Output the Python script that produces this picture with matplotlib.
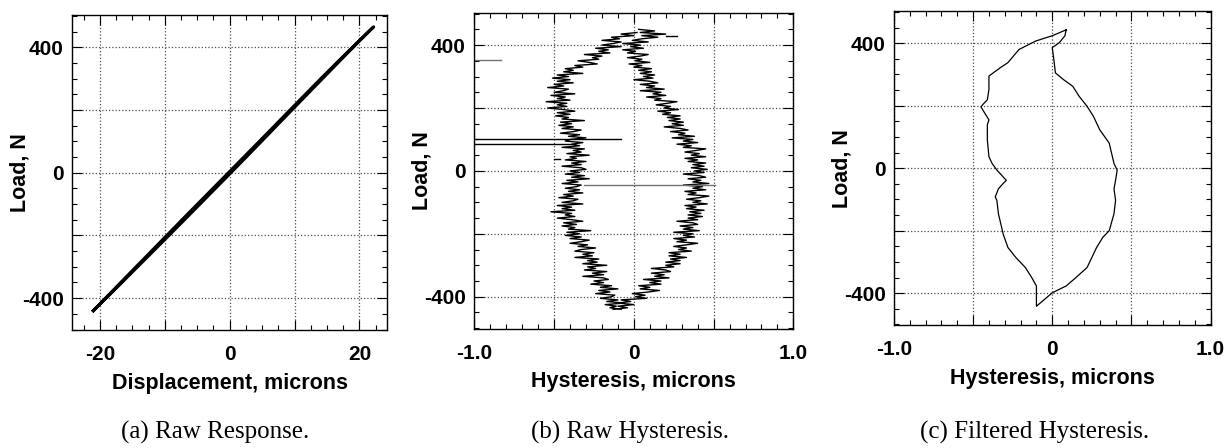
import numpy as np
import matplotlib.pyplot as plt
from matplotlib.ticker import MultipleLocator, FuncFormatter

plt.rcParams['axes.unicode_minus'] = False
plt.rcParams['font.family'] = ['Liberation Sans', 'DejaVu Sans']

# ----------------------------
# (a) raw response: load vs displacement
# ----------------------------
load_a = [-440, -400, -350, -300, -250, -200, -150, -100, -50, 0, 50, 100, 150, 200,
          250, 300, 350, 400, 450, 465,
          450, 400, 350, 300, 250, 200, 150, 100, 50, 0, -50, -100, -150, -200,
          -250, -300, -350, -400, -440]
disp_a = [-21.00, -19.05, -16.61, -14.19, -11.77, -9.36, -6.96, -4.57, -2.19, 0.19,
          2.56, 4.91, 7.25, 9.60, 11.95, 14.31, 16.67, 19.04, 21.45, 22.19,
          21.43, 18.95, 16.49, 14.06, 11.68, 9.31, 6.95, 4.58, 2.20, -0.18, -2.56,
          -4.95, -7.33, -9.69, -12.05, -14.42, -16.78, -19.13, -21.01]

# ----------------------------
# (b) raw hysteresis (two noisy branches + glitches)
# ----------------------------
load_b_left = [440, 435, 430, 425, 420, 415, 410, 405, 400, 395,
               390, 385, 380, 375, 370, 365, 360, 355, 350, 345,
               340, 335, 330, 325, 320, 315, 310, 305, 300, 295,
               290, 285, 280, 275, 270, 265, 260, 255, 250, 245,
               240, 235, 230, 225, 220, 215, 210, 205, 200, 195,
               190, 185, 180, 175, 170, 165, 160, 155, 150, 145,
               140, 135, 130, 125, 120, 115, 110, 105, 100, 95,
               90, 85, 80, 75, 70, 65, 60, 55, 50, 45,
               40, 35, 30, 25, 20, 15, 10, 5, 0, -5,
               -10, -15, -20, -25, -30, -35, -40, -45, -50, -55,
               -60, -65, -70, -75, -80, -85, -90, -95, -100, -105,
               -110, -115, -120, -125, -130, -135, -140, -145, -150, -155,
               -160, -165, -170, -175, -180, -185, -190, -195, -200, -205,
               -210, -215, -220, -225, -230, -235, -240, -245, -250, -255,
               -260, -265, -270, -275, -280, -285, -290, -295, -300, -305,
               -310, -315, -320, -325, -330, -335, -340, -345, -350, -355,
               -360, -365, -370, -375, -380, -385, -390, -395, -400, -405,
               -410, -415, -420, -425, -430, -435, -440]
hyst_b_left = [0.02, -0.08, 0.00, -0.14, -0.09, -0.20, -0.08, -0.13, -0.20, -0.08,
               -0.24, -0.16, -0.22, -0.15, -0.31, -0.20, -0.26, -0.22, -0.35, -0.28,
               -0.23, -0.37, -0.32, -0.43, -0.38, -0.44, -0.32, -0.48, -0.41, -0.51,
               -0.40, -0.48, -0.38, -0.50, -0.44, -0.54, -0.41, -0.44, -0.50, -0.37,
               -0.52, -0.43, -0.48, -0.40, -0.55, -0.42, -0.48, -0.42, -0.54, -0.44,
               -0.37, -0.48, -0.40, -0.49, -0.41, -0.45, -0.31, -0.46, -0.39, -0.47,
               -0.38, -0.45, -0.33, -0.38, -0.46, -0.34, -0.41, -0.30, -0.40, -0.43,
               -0.32, -0.39, -0.34, -0.45, -0.31, -0.38, -0.33, -0.42, -0.28, -0.40,
               -0.36, -0.43, -0.30, -0.39, -0.33, -0.45, -0.33, -0.30, -0.40, -0.34,
               -0.43, -0.31, -0.39, -0.28, -0.42, -0.35, -0.45, -0.33, -0.36, -0.43,
               -0.34, -0.41, -0.32, -0.44, -0.38, -0.47, -0.35, -0.38, -0.45, -0.32,
               -0.48, -0.39, -0.45, -0.37, -0.52, -0.39, -0.43, -0.37, -0.48, -0.39,
               -0.32, -0.44, -0.36, -0.45, -0.37, -0.41, -0.27, -0.42, -0.34, -0.43,
               -0.33, -0.40, -0.28, -0.33, -0.40, -0.29, -0.35, -0.24, -0.33, -0.37,
               -0.25, -0.32, -0.26, -0.37, -0.22, -0.29, -0.23, -0.32, -0.17, -0.29,
               -0.24, -0.31, -0.17, -0.26, -0.19, -0.32, -0.19, -0.16, -0.25, -0.19,
               -0.27, -0.14, -0.21, -0.10, -0.22, -0.15, -0.24, -0.12, -0.14, -0.21,
               -0.10, -0.17, -0.06, -0.18, -0.11, -0.15, -0.08]
load_b_right = [-440, -435, -430, -425, -420, -415, -410, -405, -400, -395,
                -390, -385, -380, -375, -370, -365, -360, -355, -350, -345,
                -340, -335, -330, -325, -320, -315, -310, -305, -300, -295,
                -290, -285, -280, -275, -270, -265, -260, -255, -250, -245,
                -240, -235, -230, -225, -220, -215, -210, -205, -200, -195,
                -190, -185, -180, -175, -170, -165, -160, -155, -150, -145,
                -140, -135, -130, -125, -120, -115, -110, -105, -100, -95,
                -90, -85, -80, -75, -70, -65, -60, -55, -50, -45,
                -40, -35, -30, -25, -20, -15, -10, -5, 0, 5,
                10, 15, 20, 25, 30, 35, 40, 45, 50, 55,
                60, 65, 70, 75, 80, 85, 90, 95, 100, 105,
                110, 115, 120, 125, 130, 135, 140, 145, 150, 155,
                160, 165, 170, 175, 180, 185, 190, 195, 200, 205,
                210, 215, 220, 225, 230, 235, 240, 245, 250, 255,
                260, 265, 270, 275, 280, 285, 290, 295, 300, 305,
                310, 315, 320, 325, 330, 335, 340, 345, 350, 355,
                360, 365, 370, 375, 380, 385, 390, 395, 400, 405,
                410, 415, 420, 425, 430, 435, 440, 445, 450]
hyst_b_right = [-0.13, -0.04, -0.10, 0.00, -0.10, -0.02, -0.08, 0.08, 0.01, 0.07,
                -0.01, 0.09, 0.16, 0.04, 0.10, 0.03, 0.17, 0.10, 0.17, 0.06,
                0.22, 0.13, 0.19, 0.11, 0.23, 0.20, 0.11, 0.25, 0.20, 0.29,
                0.20, 0.29, 0.23, 0.33, 0.22, 0.29, 0.22, 0.36, 0.28, 0.33,
                0.25, 0.33, 0.40, 0.27, 0.33, 0.25, 0.38, 0.31, 0.37, 0.25,
                0.41, 0.31, 0.37, 0.29, 0.40, 0.37, 0.27, 0.40, 0.34, 0.43,
                0.34, 0.42, 0.35, 0.44, 0.33, 0.39, 0.32, 0.46, 0.37, 0.42,
                0.33, 0.41, 0.47, 0.34, 0.39, 0.32, 0.45, 0.37, 0.43, 0.31,
                0.47, 0.37, 0.42, 0.34, 0.45, 0.41, 0.31, 0.44, 0.38, 0.46,
                0.36, 0.44, 0.37, 0.45, 0.34, 0.40, 0.32, 0.45, 0.36, 0.41,
                0.32, 0.39, 0.45, 0.31, 0.36, 0.27, 0.40, 0.31, 0.37, 0.24,
                0.38, 0.28, 0.32, 0.23, 0.34, 0.29, 0.19, 0.31, 0.24, 0.31,
                0.22, 0.29, 0.21, 0.29, 0.18, 0.23, 0.15, 0.28, 0.19, 0.23,
                0.14, 0.21, 0.27, 0.13, 0.17, 0.08, 0.20, 0.12, 0.17, 0.04,
                0.19, 0.08, 0.13, 0.04, 0.15, 0.10, 0.00, 0.12, 0.06, 0.13,
                0.04, 0.11, 0.03, 0.11, 0.00, 0.05, -0.03, 0.10, 0.01, 0.05,
                -0.04, 0.04, 0.09, -0.04, 0.01, -0.07, 0.06, -0.02, 0.04, -0.07,
                0.09, -0.01, 0.05, 0.15, 0.05, 0.20, 0.04, 0.13, 0.03]
glitch_load = [100, 85, -45, 351, 430, 39]
glitch_x0 = [-1.0, -1.0, -0.31, -1.0, 0.20, -0.50]
glitch_x1 = [-0.08, -0.38, 0.51, -0.83, 0.27, -0.46]
glitch_color = ['black', 'black', '0.45', '0.45', 'black', 'black']

# ----------------------------
# (c) filtered hysteresis
# ----------------------------
hyst_c = [0.088, 0.0, -0.105, -0.21, -0.28, -0.33, -0.40, -0.40, -0.41, -0.44, -0.45,
          -0.42, -0.40, -0.41, -0.41, -0.40, -0.38, -0.35, -0.31, -0.29, -0.31, -0.34,
          -0.36, -0.35, -0.34, -0.32, -0.31, -0.28, -0.23, -0.17, -0.13, -0.10, -0.10,
          0.0, 0.088, 0.15, 0.22, 0.28, 0.32, 0.36, 0.39, 0.40, 0.39, 0.40, 0.41, 0.39,
          0.37, 0.36, 0.30, 0.26, 0.22, 0.17, 0.13, 0.07, 0.02, 0.01, 0.0, 0.045, 0.08,
          0.088]
load_c = [443, 424, 407, 380, 338, 321, 295, 252, 219, 203, 196, 171, 155, 139, 90, 37,
          15, -6, -28, -39, -49, -66, -92, -103, -146, -189, -211, -254, -286, -318,
          -350, -377, -442, -399, -377, -350, -318, -254, -221, -200, -146, -103, -66,
          -39, -6, 15, 58, 80, 123, 166, 198, 230, 262, 284, 305, 348, 386, 402, 424,
          443]

captions = ['(a) Raw Response.', '(b) Raw Hysteresis.', '(c) Filtered Hysteresis.']


def style_axes(ax, xlim, xmajor, xminor, xlabels, xlabel):
    ax.set_xlim(*xlim)
    ax.set_ylim(-502, 502)
    ax.xaxis.set_major_locator(MultipleLocator(xmajor))
    ax.xaxis.set_minor_locator(MultipleLocator(xminor))
    ax.yaxis.set_major_locator(MultipleLocator(200))
    ax.yaxis.set_minor_locator(MultipleLocator(50))
    ax.xaxis.set_major_formatter(FuncFormatter(
        lambda v, p: xlabels.get(round(v, 3), '')))
    ax.yaxis.set_major_formatter(FuncFormatter(
        lambda v, p: str(int(round(v))) if round(v) in (-400, 0, 400) else ''))
    ax.tick_params(which='both', direction='in', top=True, right=True,
                   labelsize=15, width=0.8)
    ax.tick_params(which='major', length=7)
    ax.tick_params(which='minor', length=3.5)
    ax.tick_params(axis='x', pad=11)
    ax.tick_params(axis='y', pad=6)
    for lab in ax.get_xticklabels() + ax.get_yticklabels():
        lab.set_fontweight('bold')
    ax.grid(True, which='major', linestyle=':', color='0.3', linewidth=0.9)
    for s in ax.spines.values():
        s.set_linewidth(1.0)
    ax.set_xlabel(xlabel, fontsize=15.5, fontweight='bold', labelpad=6)
    ax.set_ylabel('Load, N', fontsize=15.5, fontweight='bold')
    ax.yaxis.set_label_coords(-0.132, 0.5)


fig = plt.figure(figsize=(12.32, 4.48), dpi=100)
ax1 = fig.add_axes([0.0584, 0.263, 0.256, 0.703])
ax2 = fig.add_axes([0.385, 0.266, 0.259, 0.705])
ax3 = fig.add_axes([0.7256, 0.2746, 0.257, 0.70])

ax1.plot(disp_a, load_a, color='black', linewidth=2.2)
style_axes(ax1, (-24.3, 24.3), 10, 2.5, {-20: '-20', 0: '0', 20: '20'},
           'Displacement, microns')

ax2.plot(hyst_b_left, load_b_left, color='black', linewidth=1.0)
ax2.plot(hyst_b_right, load_b_right, color='black', linewidth=1.0)
for yl, x0, x1, c in zip(glitch_load, glitch_x0, glitch_x1, glitch_color):
    ax2.plot([x0, x1], [yl, yl], color=c, linewidth=1.0)
style_axes(ax2, (-1.0, 1.0), 0.5, 0.1, {-1.0: '-1.0', 0.0: '0', 1.0: '1.0'},
           'Hysteresis, microns')

ax3.plot(hyst_c, load_c, color='black', linewidth=0.9)
style_axes(ax3, (-1.0, 1.0), 0.5, 0.1, {-1.0: '-1.0', 0.0: '0', 1.0: '1.0'},
           'Hysteresis, microns')

for xc, cap in zip([0.175, 0.511, 0.840], captions):
    fig.text(xc, 0.034, cap, ha='center', va='center', fontsize=18,
             family='Liberation Serif')

fig.savefig('out.png', dpi=100)
